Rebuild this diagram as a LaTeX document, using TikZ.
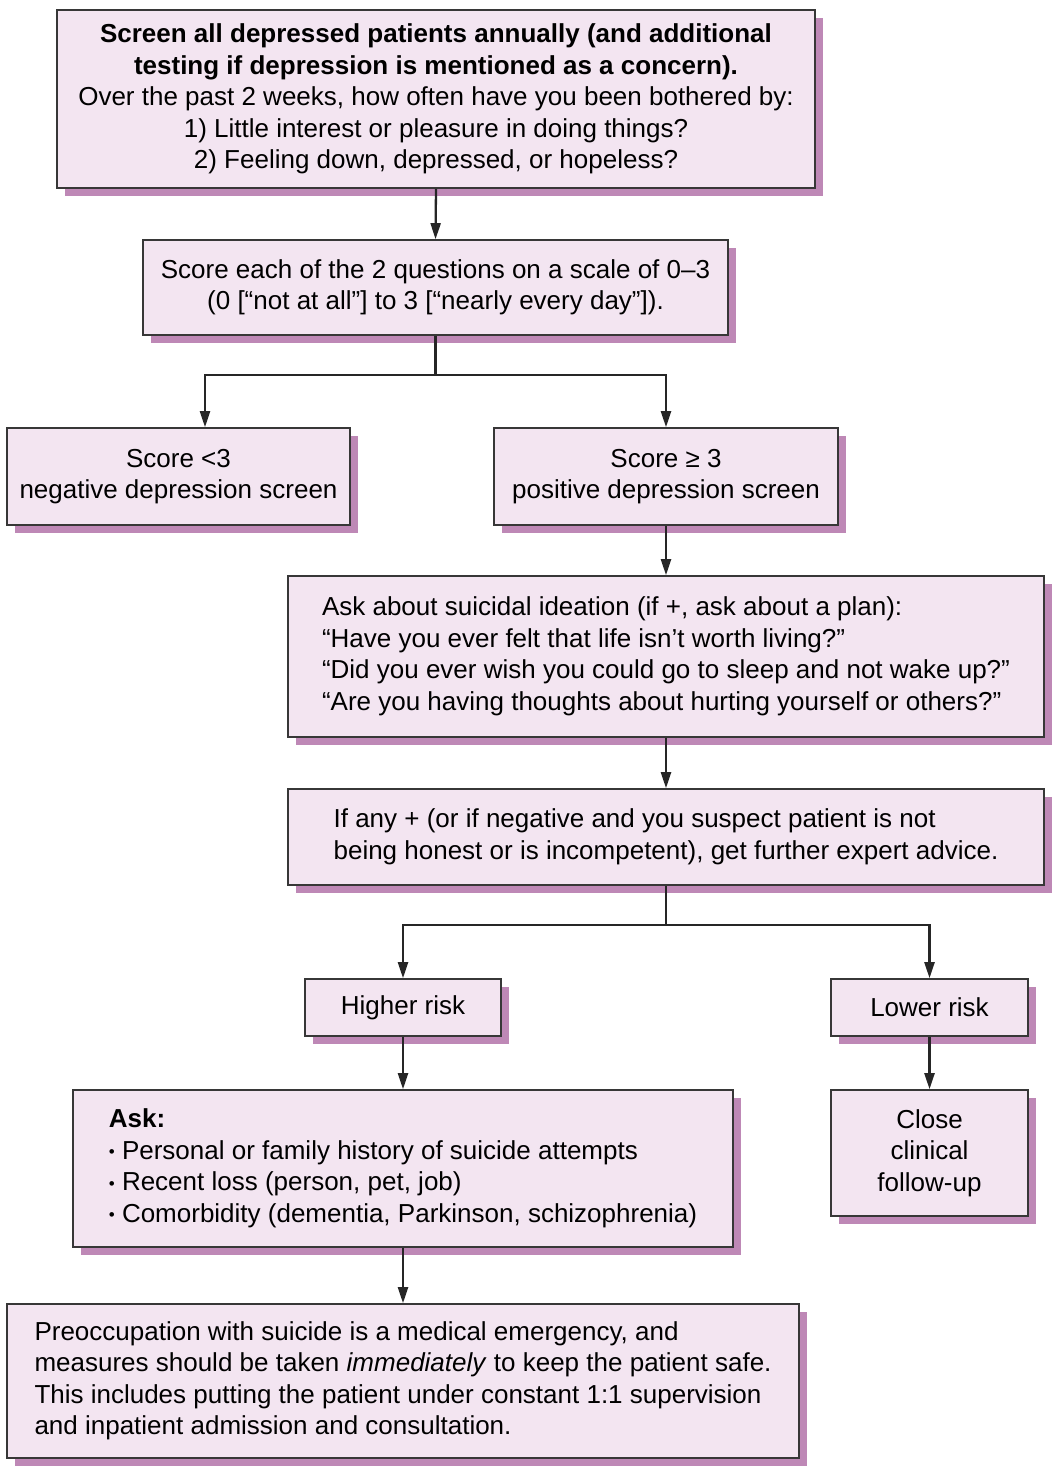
\documentclass[tikz,border=0pt]{standalone}
\usepackage{fontspec}
\setmainfont{Liberation Sans}
\usetikzlibrary{arrows.meta,shadows}

\definecolor{boxfill}{RGB}{243,229,241}
\definecolor{boxshade}{RGB}{190,136,182}
\definecolor{boxline}{RGB}{55,55,55}
\newcommand{\bul}{{\fontsize{17}{17}\selectfont\raisebox{1.5pt}{•}}\ }

\begin{document}
\begin{tikzpicture}[
    x=1pt, y=-1pt,
    box/.style={draw=boxline, line width=1.6pt, fill=boxfill, inner sep=4pt,
        align=center, font=\fontsize{26}{31.5}\selectfont,
        drop shadow={shadow xshift=8pt, shadow yshift=-8pt, fill=boxshade, opacity=1}},
    leftbox/.style={box, align=left},
    arr/.style={-{Triangle[length=16pt,width=10pt]}, line width=2.3pt, black!85}
]
\useasboundingbox (0,0) rectangle (1062,1469);

\node[box, minimum width=758, minimum height=178] (screen) at (436,99)
    {\textbf{Screen all depressed patients annually (and additional}\\
     \textbf{testing if depression is mentioned as a concern).}\\
     Over the past 2 weeks, how often have you been bothered by:\\
     1) Little interest or pleasure in doing things?\\
     2) Feeling down, depressed, or hopeless?};
\node[box, minimum width=585, minimum height=95] (score) at (435.5,287.5)
    {Score each of the 2 questions on a scale of 0–3\\
     (0 [“not at all”] to 3 [“nearly every day”]).};
\node[box, minimum width=343, minimum height=97] (neg) at (178.5,476.5)
    {Score <3\\negative depression screen};
\node[box, minimum width=344, minimum height=97] (pos) at (666,476.5)
    {Score ≥ 3\\positive depression screen};
\node[leftbox, minimum width=756, minimum height=161] (ideation) at (666,656.5)
    {Ask about suicidal ideation (if +, ask about a plan):\\
     “Have you ever felt that life isn’t worth living?”\\
     “Did you ever wish you could go to sleep and not wake up?”\\
     “Are you having thoughts about hurting yourself or others?”};
\node[leftbox, minimum width=756, minimum height=96] (advice) at (666,837)
    {If any + (or if negative and you suspect patient is not\\
     being honest or is incompetent), get further expert advice.};
\node[box, minimum width=196, minimum height=57] (higher) at (403,1007.5) {Higher risk};
\node[box, minimum width=197, minimum height=57] (lower) at (929.5,1007.5) {Lower risk};
\node[leftbox, minimum width=660, minimum height=157] (ask) at (403,1168.5)
    {\textbf{Ask:}\\
     \bul Personal or family history of suicide attempts\\
     \bul Recent loss (person, pet, job)\\
     \bul Comorbidity (dementia, Parkinson, schizophrenia)};
\node[box, minimum width=197, minimum height=126] (followup) at (929.5,1153)
    {Close\\clinical\\follow-up};
\node[leftbox, minimum width=792, minimum height=154] (emergency) at (403,1381)
    {Preoccupation with suicide is a medical emergency, and\\
     measures should be taken \textit{immediately} to keep the patient safe.\\
     This includes putting the patient under constant 1:1 supervision\\
     and inpatient admission and consultation.};

\coordinate (split1) at (435.5,375);
\coordinate (split2) at (666,925);

\draw[arr] (screen.south) -- (score.north);
\draw[line width=2.3pt, black!85] (score.south) -- (split1);
\draw[arr] (split1) -| ([xshift=26.5pt]neg.north);
\draw[arr] (split1) -| (pos.north);
\draw[arr] (pos) -- (ideation);
\draw[arr] (ideation) -- (advice);
\draw[line width=2.3pt, black!85] (advice.south) -- (split2);
\draw[arr] (split2) -| (higher.north);
\draw[arr] (split2) -| (lower.north);
\draw[arr] (higher) -- (ask);
\draw[arr] (lower) -- (followup);
\draw[arr] (ask) -- (emergency);
\end{tikzpicture}
\end{document}
